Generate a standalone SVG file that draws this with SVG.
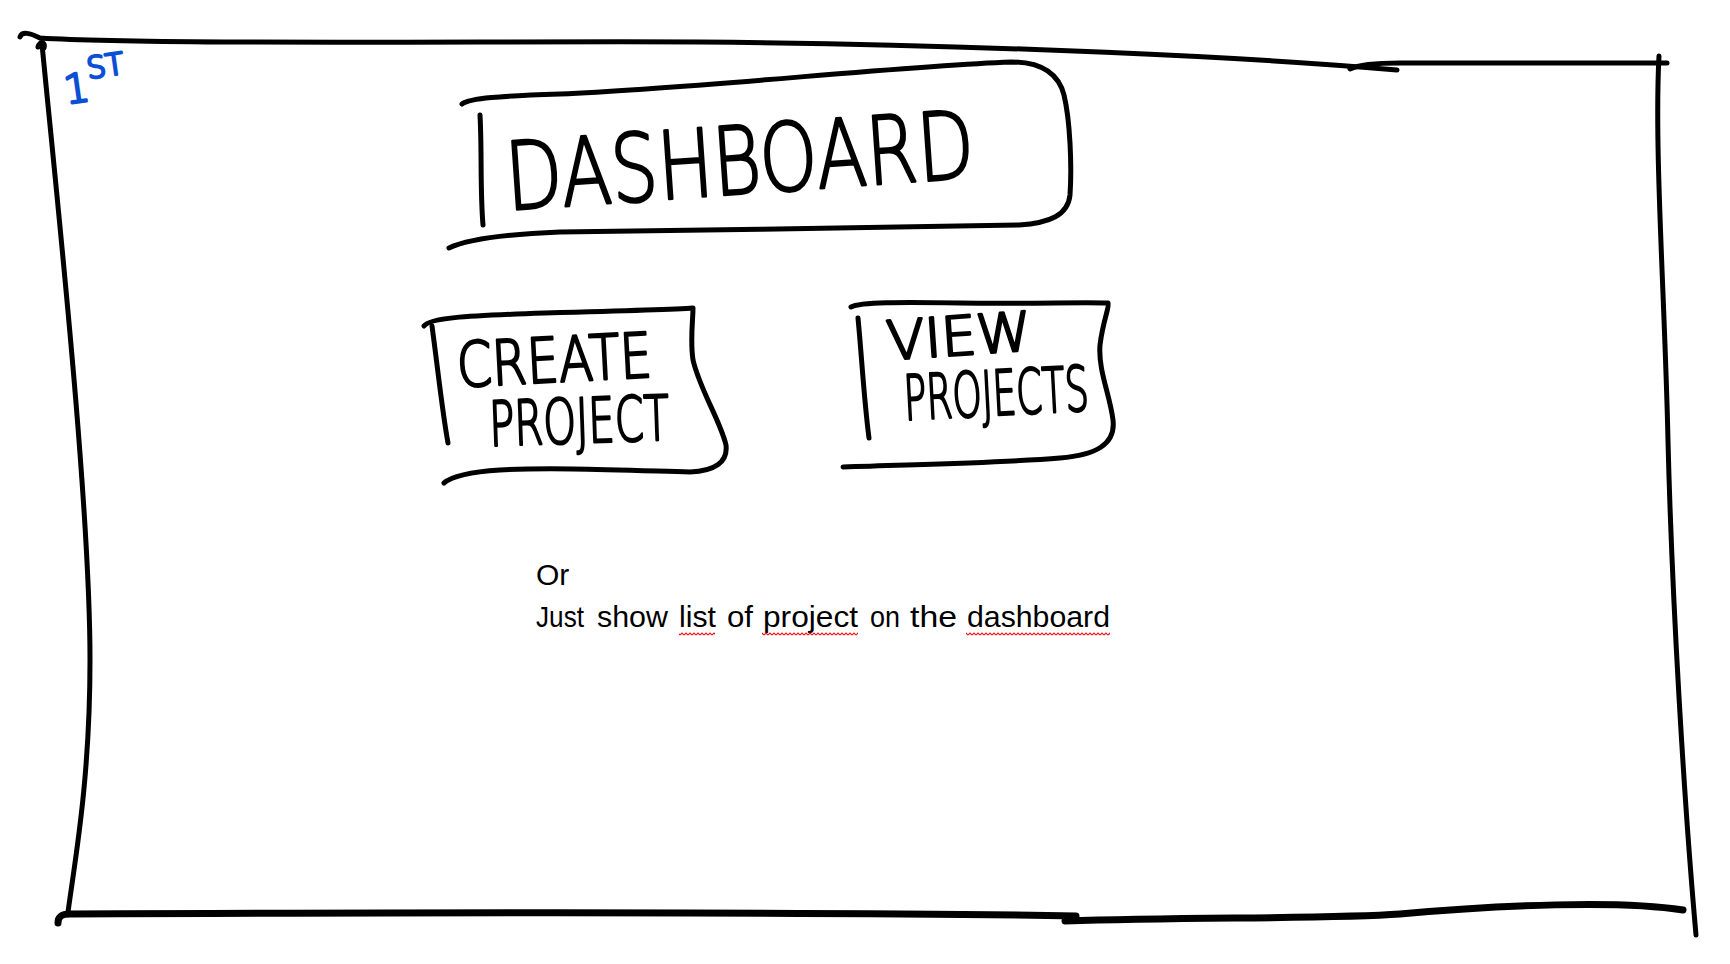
<svg xmlns="http://www.w3.org/2000/svg" width="1730" height="964" viewBox="0 0 1730 964">
  <style>
    .ink { fill: none; stroke: #000; stroke-width: 5; stroke-linecap: round; stroke-linejoin: round; }
    .ink-heavy { fill: none; stroke: #000; stroke-width: 7; stroke-linecap: round; stroke-linejoin: round; }
    .hand { font-family: "DejaVu Sans", "Liberation Sans", sans-serif; font-weight: 200; fill: #000; stroke: #000; stroke-width: 2.6; stroke-linejoin: round; }
    .blue { fill: #0b4fd6; stroke: #0b4fd6; }
    .note { font-family: "Liberation Sans", Arial, sans-serif; font-size: 30px; fill: #000; }
  </style>
  <defs>
    <!-- spell-check style wavy underline -->
    <pattern id="squiggle" width="4" height="4" patternUnits="userSpaceOnUse">
      <path d="M0,3 L2,1 L4,3" fill="none" stroke="#e8111a" stroke-width="1.1"/>
    </pattern>
  </defs>
  <rect width="1730" height="964" fill="#fff"/>

  <!-- outer page frame -->
  <g id="frame">
    <path class="ink" d="M20,37 C22,31 30,33 40,38 C150,45 500,41 700,42 C1000,45 1250,57 1397,70"/>
    <path class="ink" d="M1350,69 C1360,64 1380,63 1400,63 L1667,63"/>
    <path class="ink" d="M38,47 C40,40 46,42 44,48"/>
    <path class="ink" d="M42,44 C55,180 90,500 90,660 C90,780 75,860 68,912"/>
    <path class="ink" d="M1659,56 C1654,150 1665,300 1668,441 C1672,600 1684,800 1696,935"/>
    <path class="ink-heavy" d="M58,923 C58,916 62,914 70,914 C300,913 800,911 1076,916"/>
    <path class="ink-heavy" d="M1065,921 C1200,917 1330,919 1400,914 C1500,905 1620,900 1683,910"/>
  </g>

  <!-- page marker -->
  <g id="label-1st">
    <text class="hand blue" x="66" y="104" font-size="40" transform="rotate(-8 66 104)">1<tspan font-size="30" dy="-22">ST</tspan></text>
  </g>

  <g id="dashboard">
    <path class="ink" d="M462,104 C470,98 500,96 560,94 C700,88 900,66 1011,62 C1040,62 1058,72 1064,95 C1070,120 1072,165 1070,195 C1068,215 1050,223 1019,225 C900,228 700,230 560,232 C510,234 470,238 449,248"/>
    <path class="ink" d="M480,115 C482,150 480,190 483,225"/>
    <text class="hand" x="508" y="210" font-size="94" textLength="469" lengthAdjust="spacingAndGlyphs" transform="rotate(-4 508 210)">DASHBOARD</text>
  </g>

  <g id="create-project">
    <path class="ink" d="M424,326 C430,318 460,316 545,313 C620,311 680,309 693,308 C693,320 690,340 693,360 C700,390 720,420 726,445 C728,462 715,471 690,472 C620,470 550,467 500,470 C470,472 452,476 444,483"/>
    <path class="ink" d="M432,326 C438,370 442,410 448,443"/>
    <text class="hand" x="458" y="387" font-size="62" textLength="195" lengthAdjust="spacingAndGlyphs" transform="rotate(-3 458 387)">CREATE</text>
    <text class="hand" x="490" y="446" font-size="62" textLength="180" lengthAdjust="spacingAndGlyphs" transform="rotate(-2 490 446)">PROJECT</text>
  </g>

  <g id="view-projects">
    <path class="ink" d="M851,307 C860,302 900,302 960,303 C1030,304 1080,302 1108,303 C1110,306 1103,320 1100,345 C1098,370 1110,395 1113,420 C1116,445 1095,455 1060,458 C1000,463 930,464 843,467"/>
    <path class="ink" d="M858,318 C862,360 864,400 869,438"/>
    <text class="hand" x="888" y="360" font-size="54" textLength="145" lengthAdjust="spacingAndGlyphs" transform="rotate(-4 888 360)">VIEW</text>
    <text class="hand" x="905" y="420" font-size="62" textLength="185" lengthAdjust="spacingAndGlyphs" transform="rotate(-3 905 420)">PROJECTS</text>
  </g>

  <g id="note">
    <text class="note" x="536" y="585">Or</text>
    <text class="note" y="627"><tspan x="536" textLength="48" lengthAdjust="spacingAndGlyphs">Just</tspan> <tspan x="597" textLength="71" lengthAdjust="spacingAndGlyphs">show</tspan> <tspan x="679" textLength="37" lengthAdjust="spacingAndGlyphs">list</tspan> <tspan x="727" textLength="26" lengthAdjust="spacingAndGlyphs">of</tspan> <tspan x="763" textLength="95" lengthAdjust="spacingAndGlyphs">project</tspan> <tspan x="870" textLength="30" lengthAdjust="spacingAndGlyphs">on</tspan> <tspan x="910" textLength="47" lengthAdjust="spacingAndGlyphs">the</tspan> <tspan x="967" textLength="143" lengthAdjust="spacingAndGlyphs">dashboard</tspan></text>
    <rect x="679" y="632" width="36" height="4" fill="url(#squiggle)"/>
    <rect x="762" y="632" width="96" height="4" fill="url(#squiggle)"/>
    <rect x="966" y="632" width="144" height="4" fill="url(#squiggle)"/>
  </g>
</svg>
